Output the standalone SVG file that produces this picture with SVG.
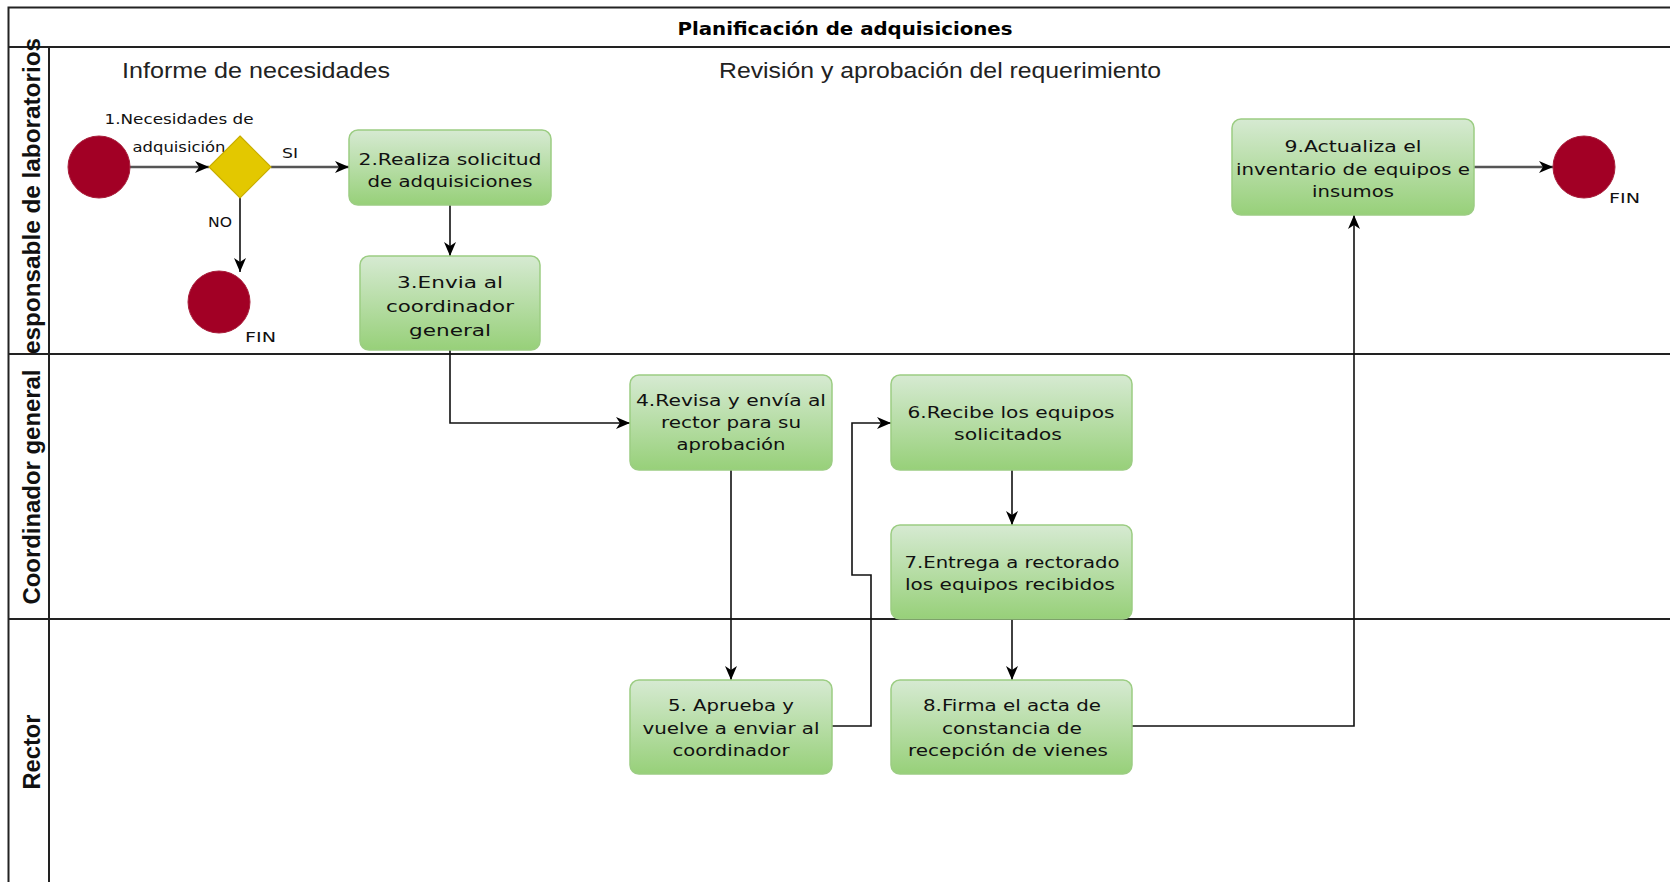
<svg xmlns="http://www.w3.org/2000/svg" width="1670" height="882" viewBox="0 0 1670 882">
<style>
.frame{stroke:#222;stroke-width:2;fill:none}
.lane{font-family:"Liberation Sans",Arial,sans-serif;font-weight:bold;font-size:24px;fill:#111}
.phase{font-family:"Liberation Sans",Arial,sans-serif;font-size:22px;fill:#222}
.title{font-family:"DejaVu Sans",Verdana,sans-serif;font-weight:bold;font-size:17px;fill:#000}
.task rect{fill:url(#g);stroke:#9ccd83;stroke-width:1.5}
.t{font-family:"DejaVu Sans",Verdana,sans-serif;font-size:15.5px;fill:#111;text-anchor:middle}
.s{font-family:"DejaVu Sans",Verdana,sans-serif;font-size:14px;fill:#111}
.ev{fill:#a20025;stroke:#a8203c;stroke-width:1}
.c{fill:none;stroke:#111;stroke-width:1.6;marker-end:url(#arr)}
.c2{fill:none;stroke:#555;stroke-width:2.6;marker-end:url(#arr)}
</style>
<defs>
<linearGradient id="g" x1="0" y1="0" x2="0" y2="1">
<stop offset="0" stop-color="#d6ead2"/>
<stop offset="1" stop-color="#97d079"/>
</linearGradient>
<marker id="arr" viewBox="0 0 14 12" refX="14" refY="6" markerWidth="14" markerHeight="12" markerUnits="userSpaceOnUse" orient="auto">
<path d="M0,0 L14,6 L0,12 L4,6 Z" fill="#000"/>
</marker>
</defs>
<rect width="1670" height="882" fill="#fff"/>
<g id="pool">
<path class="frame" d="M8.5,882 V7.5 H1670 M8.5,47 H1670 M49,47 V882 M8.5,354 H1670 M8.5,619 H1670"/>
<text class="title" x="845" y="35" text-anchor="middle" textLength="335" lengthAdjust="spacingAndGlyphs">Planificación de adquisiciones</text>
<text class="lane" transform="translate(40,354) rotate(-90)" textLength="316" lengthAdjust="spacingAndGlyphs">esponsable de laboratorios</text>
<text class="lane" transform="translate(40,487) rotate(-90)" text-anchor="middle" textLength="235" lengthAdjust="spacingAndGlyphs">Coordinador general</text>
<text class="lane" transform="translate(40,752) rotate(-90)" text-anchor="middle" textLength="75" lengthAdjust="spacingAndGlyphs">Rector</text>
<text class="phase" x="122" y="78" textLength="268" lengthAdjust="spacingAndGlyphs">Informe de necesidades</text>
<text class="phase" x="719" y="78" textLength="442" lengthAdjust="spacingAndGlyphs">Revisión y aprobación del requerimiento</text>
</g>
<g id="connectors">
<path class="c2" d="M130,167 H209"/>
<path class="c2" d="M271,167 H349"/>
<path class="c" d="M240,198 V272"/>
<path class="c" d="M450,205 V256"/>
<path class="c" d="M450,350 V423 H630"/>
<path class="c" d="M731,470 V680"/>
<path class="c" d="M832,726 H871 V575 H852 V423 H891"/>
<path class="c" d="M1012,470 V525"/>
<path class="c" d="M1012,619 V680"/>
<path class="c" d="M1132,726 H1354 V215"/>
<path class="c2" d="M1474,167 H1553"/>
<text class="s" x="282" y="158" textLength="16" lengthAdjust="spacingAndGlyphs">SI</text>
<text class="s" x="208" y="227" textLength="24" lengthAdjust="spacingAndGlyphs">NO</text>
</g>
<g id="start">
<circle class="ev" cx="99" cy="167" r="31"/>
<text class="s" x="179" y="124" text-anchor="middle" textLength="149" lengthAdjust="spacingAndGlyphs">1.Necesidades de</text>
<text class="s" x="179" y="152" text-anchor="middle" textLength="93" lengthAdjust="spacingAndGlyphs">adquisición</text>
</g>
<g id="gateway">
<path d="M240,136 L271,167 L240,198 L209,167 Z" fill="#e3c800" stroke="#c8ad00" stroke-width="1.2"/>
</g>
<g id="end1">
<circle class="ev" cx="219" cy="302" r="31"/>
<text class="s" x="245" y="342" textLength="31" lengthAdjust="spacingAndGlyphs">FIN</text>
</g>
<g id="task2" class="task">
<rect x="349" y="130" width="202" height="75" rx="9"/>
<text class="t" x="450" y="165" textLength="183" lengthAdjust="spacingAndGlyphs">2.Realiza solicitud</text>
<text class="t" x="450" y="187" textLength="165" lengthAdjust="spacingAndGlyphs">de adquisiciones</text>
</g>
<g id="task3" class="task">
<rect x="360" y="256" width="180" height="94" rx="9"/>
<text class="t" x="450" y="288" textLength="106" lengthAdjust="spacingAndGlyphs">3.Envia al</text>
<text class="t" x="450" y="312" textLength="128" lengthAdjust="spacingAndGlyphs">coordinador</text>
<text class="t" x="450" y="336" textLength="82" lengthAdjust="spacingAndGlyphs">general</text>
</g>
<g id="task4" class="task">
<rect x="630" y="375" width="202" height="95" rx="9"/>
<text class="t" x="731" y="406" textLength="190" lengthAdjust="spacingAndGlyphs">4.Revisa y envía al</text>
<text class="t" x="731" y="428" textLength="140" lengthAdjust="spacingAndGlyphs">rector para su</text>
<text class="t" x="731" y="450" textLength="109" lengthAdjust="spacingAndGlyphs">aprobación</text>
</g>
<g id="task5" class="task">
<rect x="630" y="680" width="202" height="94" rx="9"/>
<text class="t" x="731" y="711" textLength="126" lengthAdjust="spacingAndGlyphs">5. Aprueba y</text>
<text class="t" x="731" y="734" textLength="177" lengthAdjust="spacingAndGlyphs">vuelve a enviar al</text>
<text class="t" x="731" y="756" textLength="117" lengthAdjust="spacingAndGlyphs">coordinador</text>
</g>
<g id="task6" class="task">
<rect x="891" y="375" width="241" height="95" rx="9"/>
<text class="t" x="1011" y="418" textLength="207" lengthAdjust="spacingAndGlyphs">6.Recibe los equipos</text>
<text class="t" x="1008" y="440" textLength="108" lengthAdjust="spacingAndGlyphs">solicitados</text>
</g>
<g id="task7" class="task">
<rect x="891" y="525" width="241" height="94" rx="9"/>
<text class="t" x="1012" y="568" textLength="215" lengthAdjust="spacingAndGlyphs">7.Entrega a rectorado</text>
<text class="t" x="1010" y="590" textLength="210" lengthAdjust="spacingAndGlyphs">los equipos recibidos</text>
</g>
<g id="task8" class="task">
<rect x="891" y="680" width="241" height="94" rx="9"/>
<text class="t" x="1012" y="711" textLength="178" lengthAdjust="spacingAndGlyphs">8.Firma el acta de</text>
<text class="t" x="1012" y="734" textLength="140" lengthAdjust="spacingAndGlyphs">constancia de</text>
<text class="t" x="1008" y="756" textLength="200" lengthAdjust="spacingAndGlyphs">recepción de vienes</text>
</g>
<g id="task9" class="task">
<rect x="1232" y="119" width="242" height="96" rx="9"/>
<text class="t" x="1353" y="152" textLength="137" lengthAdjust="spacingAndGlyphs">9.Actualiza el</text>
<text class="t" x="1353" y="175" textLength="234" lengthAdjust="spacingAndGlyphs">inventario de equipos e</text>
<text class="t" x="1353" y="197" textLength="82" lengthAdjust="spacingAndGlyphs">insumos</text>
</g>
<g id="end2">
<circle class="ev" cx="1584" cy="167" r="31"/>
<text class="s" x="1609" y="203" textLength="31" lengthAdjust="spacingAndGlyphs">FIN</text>
</g>
</svg>
